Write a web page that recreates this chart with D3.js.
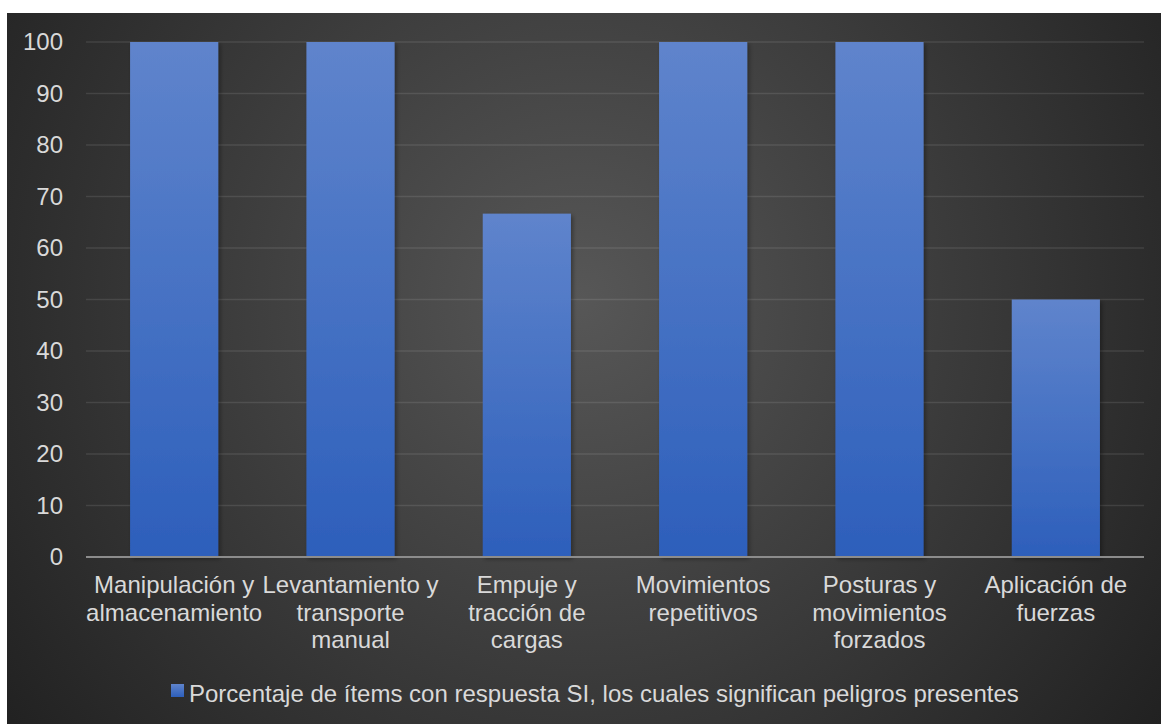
<!DOCTYPE html>
<html><head><meta charset="utf-8">
<script src="https://cdn.jsdelivr.net/npm/d3@7"></script>
<style>html,body{margin:0;padding:0;background:#fff;}svg{display:block;}</style>
</head><body>
<svg id="chart" width="1161" height="724"></svg>
<script>
const categories = ["Manipulación y\nalmacenamiento", "Levantamiento y\ntransporte\nmanual", "Empuje y\ntracción de\ncargas", "Movimientos\nrepetitivos", "Posturas y\nmovimientos\nforzados", "Aplicación de\nfuerzas"];
const values = [100, 100, 66.67, 100, 100, 50];
const yTicks = [0, 10, 20, 30, 40, 50, 60, 70, 80, 90, 100];
const seriesName = "Porcentaje de ítems con respuesta SI, los cuales significan peligros presentes";

const svg = d3.select("#chart");
const W = 1161, H = 724;
const defs = svg.append("defs");
const bg = defs.append("radialGradient").attr("id","bg").attr("gradientUnits","userSpaceOnUse")
  .attr("cx",580).attr("cy",300).attr("r",720);
bg.append("stop").attr("offset","0%").attr("stop-color","#575757");
bg.append("stop").attr("offset","100%").attr("stop-color","#212121");
const bar = defs.append("linearGradient").attr("id","bar").attr("x1",0).attr("y1",0).attr("x2",0).attr("y2",1);
bar.append("stop").attr("offset","0%").attr("stop-color","#5f84cc");
bar.append("stop").attr("offset","100%").attr("stop-color","#2d5fbb");
const f = defs.append("filter").attr("id","sh").attr("x","-10%").attr("y","-10%").attr("width","130%").attr("height","130%");
f.append("feDropShadow").attr("dx",2).attr("dy",2).attr("stdDeviation",2).attr("flood-color","#000").attr("flood-opacity",0.35);

svg.append("rect").attr("x",7).attr("y",13).attr("width",W-7).attr("height",H-13).attr("fill","url(#bg)");

const x = d3.scaleBand().domain(categories).range([86,1144]).paddingInner(0.5).paddingOuter(0.25);
const y = d3.scaleLinear().domain([0,100]).range([557,42]);

const font = "'Liberation Sans', Arial, sans-serif";
const txt = "#d9d9d9";

// gridlines
svg.append("g").selectAll("line").data(yTicks.filter(d=>d>0)).join("line")
  .attr("x1",86).attr("x2",1144).attr("y1",d=>y(d)).attr("y2",d=>y(d))
  .attr("stroke","rgba(255,255,255,0.1)").attr("stroke-width",1.5);

// y axis labels
const yAxis = svg.append("g").attr("transform","translate(86,0)")
  .call(d3.axisLeft(y).tickValues(yTicks).tickSize(0).tickPadding(23));
yAxis.select(".domain").remove();
yAxis.selectAll("text").attr("fill",txt).style("font-family",font).style("font-size","24px");

// bars
svg.append("g").selectAll("rect").data(values).join("rect")
  .attr("x",(d,i)=>x(categories[i])).attr("width",x.bandwidth())
  .attr("y",d=>y(d)).attr("height",d=>y(0)-y(d))
  .attr("fill","url(#bar)").attr("filter","url(#sh)");

// baseline
svg.append("line").attr("x1",86).attr("x2",1144).attr("y1",y(0)).attr("y2",y(0))
  .attr("stroke","#8c8c8c").attr("stroke-width",2);

// category labels
const cg = svg.append("g").selectAll("text").data(categories).join("text")
  .attr("x",d=>x(d)+x.bandwidth()/2).attr("y",593)
  .attr("text-anchor","middle").attr("fill",txt)
  .style("font-family",font).style("font-size","24px");
cg.selectAll("tspan").data(d=>d.split("\n")).join("tspan")
  .attr("x",function(){return d3.select(this.parentNode).attr("x");})
  .attr("dy",(d,i)=>i===0?0:27.5).text(d=>d);

// legend
svg.append("rect").attr("x",171).attr("y",684).attr("width",13).attr("height",13).attr("fill","url(#bar)");
svg.append("text").attr("x",189).attr("y",702).attr("fill",txt)
  .style("font-family",font).style("font-size","24px").text(seriesName);
</script>
</body></html>
